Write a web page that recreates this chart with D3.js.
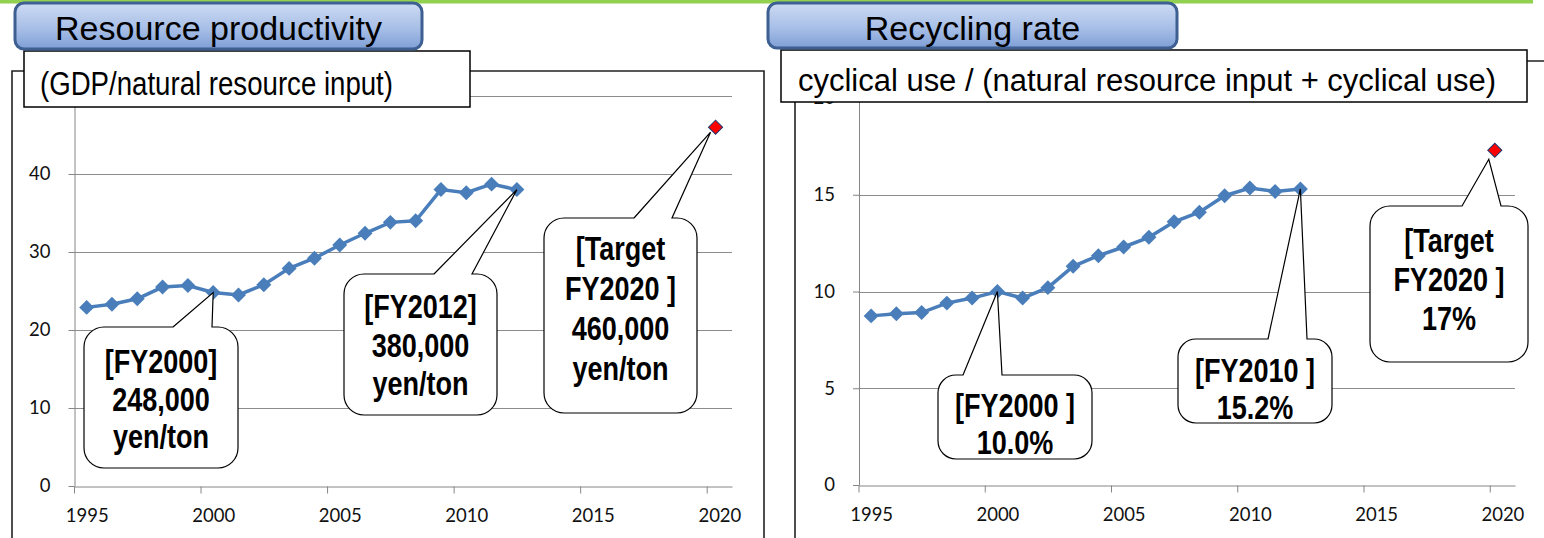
<!DOCTYPE html>
<html>
<head>
<meta charset="utf-8">
<script src="https://cdn.jsdelivr.net/npm/d3@7"></script>
<style>
body { margin: 0; background: #fff; }
svg { display: block; }
.tick text { font-family: Lato, "Open Sans", sans-serif; font-size: 18.5px; fill: #111; }
</style>
</head>
<body>
<script>
var width = 1544;
var height = 538;

// data
var fiscalYears = [1995,1996,1997,1998,1999,2000,2001,2002,2003,2004,2005,2006,2007,2008,2009,2010,2011,2012];
var productivity = [22.9,23.3,24.0,25.5,25.7,24.8,24.5,25.8,27.9,29.2,30.9,32.4,33.8,34.0,38.0,37.6,38.7,38.0];
var recyclingRate = [8.74,8.85,8.91,9.4,9.66,10.0,9.66,10.2,11.3,11.85,12.3,12.8,13.6,14.1,14.95,15.35,15.17,15.3];
var targetYear = 2020;
var productivityTarget = 46;
var recyclingTarget = 17.3;
var xTicks = [1995,2000,2005,2010,2015,2020];
var productivityTicks = [0,10,20,30,40,50];
var recyclingTicks = [0,5,10,15,20];

var svg = d3.select('body').append('svg')
	.attr('width',width)
	.attr('height',height);

var grad = svg.append('defs').append('linearGradient')
	.attr('id','titleFill')
	.attr('x1',0).attr('y1',0).attr('x2',0).attr('y2',1);
grad.append('stop').attr('offset','0%').attr('stop-color','#cddbf3');
grad.append('stop').attr('offset','55%').attr('stop-color','#a8bfe7');
grad.append('stop').attr('offset','100%').attr('stop-color','#7f9fd6');

// callout outline: rounded box with a wedge pointing at the tip
function calloutPath(b, tx, ty){
	var x = b.x, y = b.y, w = b.w, h = b.h, r = b.r;
	return 'M'+b.base[0]+','+y+'L'+tx+','+ty+'L'+b.base[1]+','+y+
		'L'+(x+w-r)+','+y+'A'+r+','+r+' 0 0 1 '+(x+w)+','+(y+r)+
		'L'+(x+w)+','+(y+h-r)+'A'+r+','+r+' 0 0 1 '+(x+w-r)+','+(y+h)+
		'L'+(x+r)+','+(y+h)+'A'+r+','+r+' 0 0 1 '+x+','+(y+h-r)+
		'L'+x+','+(y+r)+'A'+r+','+r+' 0 0 1 '+(x+r)+','+y+'Z';
}

function drawPanel(p){
	var x = d3.scaleLinear().domain([1995,2021]).range([p.left,p.right]);
	var y = d3.scaleLinear().domain([0,p.yMax]).range([p.bottom,p.top]);
	var g = svg.append('g');

	// outer chart frame
	g.append('path')
		.attr('d','M'+p.frame[0]+','+(height+2)+'V'+p.frame[1]+'H'+p.frame[2]+'V'+(height+2))
		.attr('fill','none')
		.attr('stroke','#222')
		.attr('stroke-width',1.6);

	g.selectAll('line.grid')
		.data(p.yTicks.slice(1))
		.enter()
		.append('line')
		.attr('x1',p.left).attr('x2',p.right)
		.attr('y1',(d)=>Math.round(y(d))+0.5)
		.attr('y2',(d)=>Math.round(y(d))+0.5)
		.attr('stroke','#8c8c8c');

	// the top label sits under the formula box in the original
	var ya = g.append('g')
		.attr('transform','translate('+(p.left+0.5)+',0)')
		.call(d3.axisLeft(y).tickValues(p.yTicks).tickSize(6).tickPadding(18).tickSizeOuter(0)
			.tickFormat((d)=>p.hideTop && d==p.yMax ? '' : d));
	var xa = g.append('g')
		.attr('transform','translate(0,'+(p.bottom+0.5)+')')
		.call(d3.axisBottom(x).tickValues(xTicks).tickFormat(d3.format('d')).tickSize(7).tickPadding(15).tickSizeOuter(0));
	// year labels sit half a year right of their ticks
	xa.selectAll('.tick text').attr('dx',x(1995.5)-x(1995));
	[ya,xa].forEach(function(a){
		a.select('.domain').attr('stroke','#868686');
		a.selectAll('.tick line').attr('stroke','#868686');
	});

	var line = d3.line().x((d,i)=>x(fiscalYears[i]+0.5)).y((d)=>y(d));
	g.append('path')
		.attr('d',line(p.values))
		.attr('fill','none')
		.attr('stroke','#4a7ebb')
		.attr('stroke-width',3.5);
	var diamond = d3.symbol(d3.symbolSquare,112);
	g.selectAll('path.mark')
		.data(p.values)
		.enter()
		.append('path')
		.attr('d',diamond)
		.attr('fill','#4a7ebb')
		.attr('transform',(d,i)=>'translate('+x(fiscalYears[i]+0.5)+','+y(d)+') rotate(45)');

	var tX = x(targetYear+p.targetShift), tY = y(p.target);
	g.append('path')
		.attr('d',d3.symbol(d3.symbolSquare,100))
		.attr('fill','#ff0000')
		.attr('stroke','#1f3a6e')
		.attr('stroke-width',1)
		.attr('transform','translate('+tX+','+tY+') rotate(45)');

	p.callouts.forEach(function(c){
		var tipX, tipY;
		if (c.index == null){ tipX = tX+c.tipOff[0]; tipY = tY+c.tipOff[1]; }
		else { tipX = x(fiscalYears[c.index]+0.5); tipY = y(p.values[c.index]); }
		g.append('path')
			.attr('d',calloutPath(c,tipX,tipY))
			.attr('fill','#fff')
			.attr('stroke','#000')
			.attr('stroke-width',1.2);
		c.lines.forEach(function(t,i){
			g.append('text')
				.attr('transform','translate('+(c.x+c.w/2)+','+(c.y+c.first+i*c.step)+') scale(0.82,1)')
				.attr('text-anchor','middle')
				.style('font-family','"Liberation Sans", Arial, sans-serif')
				.style('font-weight','bold')
				.style('font-size','33px')
				.text(t);
		});
	});

	// heading box and formula box
	g.append('rect')
		.attr('x',p.sub.x).attr('y',p.sub.y).attr('width',p.sub.w).attr('height',p.sub.h)
		.attr('fill','#fff').attr('stroke','#000').attr('stroke-width',1.5);
	g.append('text')
		.attr('x',p.sub.tx).attr('y',p.sub.ty)
		.attr('textLength',p.sub.tw).attr('lengthAdjust','spacingAndGlyphs')
		.style('font-family','"Liberation Sans", Arial, sans-serif')
		.style('font-size',p.sub.fs+'px')
		.text(p.subtitle);
	g.append('rect')
		.attr('x',p.head.x).attr('y',p.head.y).attr('width',p.head.w).attr('height',p.head.h)
		.attr('rx',9)
		.attr('fill','url(#titleFill)').attr('stroke','#3d5f91').attr('stroke-width',3);
	g.append('text')
		.attr('x',p.head.x+p.head.w/2).attr('y',40)
		.attr('text-anchor','middle')
		.style('font-family','"Liberation Sans", Arial, sans-serif')
		.style('font-size','34px')
		.text(p.title);
}

svg.append('rect').attr('x',0).attr('y',0).attr('width',1533).attr('height',3.5).attr('fill','#92d050');

drawPanel({
	title:'Resource productivity', subtitle:'(GDP/natural resource input)',
	values:productivity, target:productivityTarget, targetShift:0.35, yMax:50, yTicks:productivityTicks, hideTop:true,
	left:74, right:732, top:96, bottom:486, frame:[12,71,764],
	head:{x:15,y:3,w:407,h:46},
	sub:{x:24,y:51,w:446,h:56,tx:40,ty:95,tw:353,fs:34},
	callouts:[
		{x:84,y:327,w:154,h:141,r:20,base:[173,212],index:5,first:46,step:37.5,lines:['[FY2000]','248,000','yen/ton']},
		{x:344,y:274,w:153,h:141,r:20,base:[434,472],index:17,first:44,step:38.5,lines:['[FY2012]','380,000','yen/ton']},
		{x:544,y:218,w:153,h:195,r:20,base:[634,672],index:null,tipOff:[-5,5],first:42,step:40,lines:['[Target','FY2020 ]','460,000','yen/ton']}
	]
});

drawPanel({
	title:'Recycling rate', subtitle:'cyclical use / (natural resource input + cyclical use)',
	values:recyclingRate, target:recyclingTarget, targetShift:0.2, yMax:20, yTicks:recyclingTicks, hideTop:false,
	left:858.5, right:1515, top:98, bottom:485, frame:[795,61,1560],
	head:{x:768,y:3,w:409,h:45},
	sub:{x:781,y:50,w:746,h:52,tx:798,ty:91,tw:698,fs:31},
	callouts:[
		{x:938,y:375,w:154,h:84,r:18,base:[963,1002],index:5,first:42,step:36.5,lines:['[FY2000 ]','10.0%']},
		{x:1178,y:339,w:154,h:84,r:18,base:[1268,1307],index:17,first:43,step:36.5,lines:['[FY2010 ]','15.2%']},
		{x:1370,y:206,w:158,h:156,r:20,base:[1462,1501],index:null,tipOff:[-6,9],first:46,step:39,lines:['[Target','FY2020 ]','17%']}
	]
});
</script>
</body>
</html>
